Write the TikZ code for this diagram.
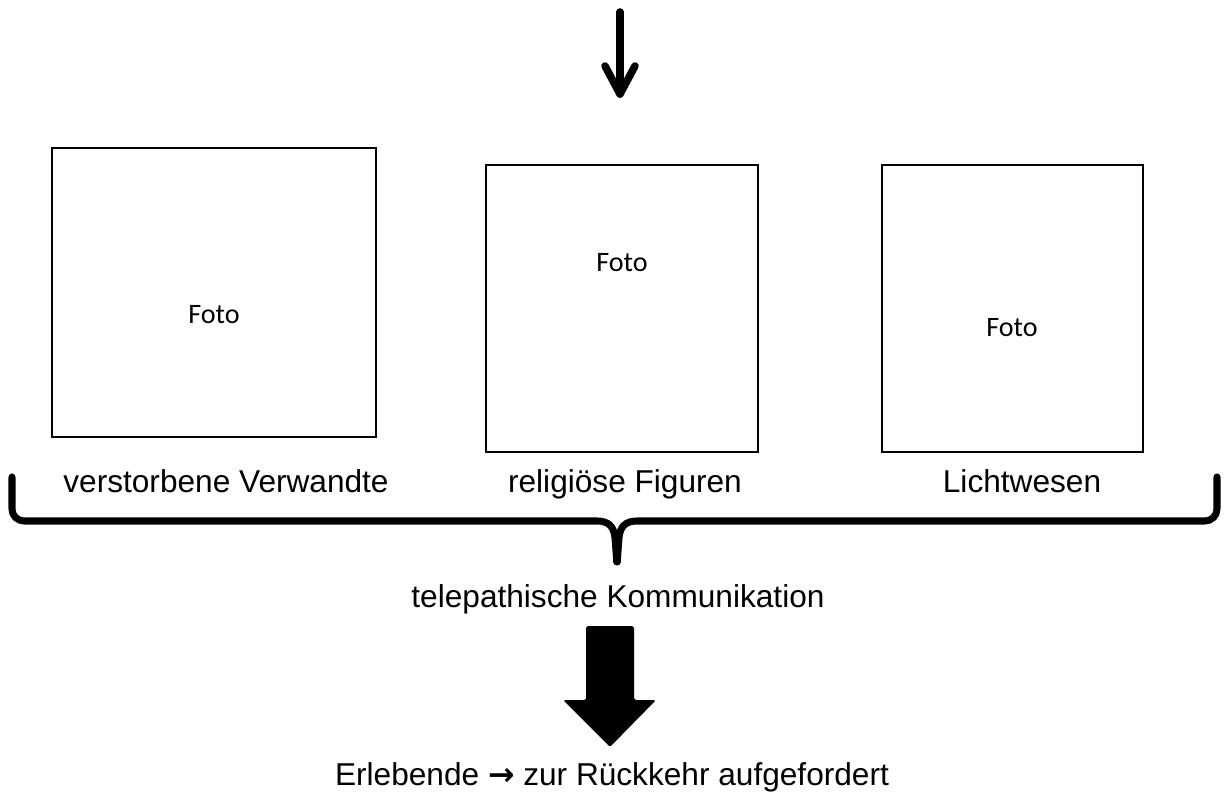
\documentclass[tikz,border=0pt]{standalone}
\usepackage{fontspec}
\setmainfont{Liberation Sans}
\newfontfamily\fotofont{Carlito}
\newfontfamily\symfont{DejaVu Sans}
\usetikzlibrary{calc}
\tikzset{
  fotobox/.style={draw, line width=0.85pt, inner sep=0pt},
  fototext/.style={font=\fotofont\fontsize{16}{19}\selectfont, anchor=base},
  lbl/.style={font=\fontsize{18}{22}\selectfont, anchor=base, inner sep=0pt},
  thinarrow/.style={line width=4.3pt, line cap=round, line join=round},
  bracket/.style={line width=4pt, line cap=round, line join=round},
}
\begin{document}
\begin{tikzpicture}[x=0.02cm,y=-0.02cm]
\useasboundingbox (0,0) rectangle (1225,794);
% top arrow
\coordinate (topstart) at (620,12);
\coordinate (toptip) at (620,94);
\draw[thinarrow] (topstart) -- (toptip);
\draw[thinarrow] ($(toptip)+(-15,-28)$) -- (toptip) -- ($(toptip)+(15,-28)$);
% photo boxes
\node[fotobox, minimum width=6.48cm, minimum height=5.78cm] (box1) at (214,292.5) {};
\node[fotobox, minimum width=5.44cm, minimum height=5.74cm] (box2) at (622,308.5) {};
\node[fotobox, minimum width=5.22cm, minimum height=5.74cm] (box3) at (1012.5,308.5) {};
\node[fototext] (foto1) at (214,323) {Foto};
\node[fototext] (foto2) at (622,272) {Foto};
\node[fototext] (foto3) at (1012,337) {Foto};
% labels
\node[lbl] (verwandte) at (226,492) {verstorbene Verwandte};
\node[lbl] (figuren) at (625,492) {religiöse Figuren};
\node[lbl] (licht) at (1022,492) {Lichtwesen};
% brace
\draw[bracket, rounded corners=0.24cm] (12,477) -- (12,521) -- (585,521)
  .. controls (608,521) and (614,526) .. (616,550) -- (617,567)
  -- (618,550) .. controls (620,526) and (626,521) .. (649,521)
  -- (1217,521) -- (1217,477);
\node[lbl] (telepathie) at (618,607) {telepathische Kommunikation};
% big arrow
\node[lbl] (rueckkehr) at (612,785) {Erlebende {\symfont\bfseries →} zur Rückkehr aufgefordert};
\fill[rounded corners=1pt] (586,626) -- (634,626) -- (634,700) -- (656,700)
  -- (610,747) -- (563,700) -- (586,700) -- cycle;
\end{tikzpicture}
\end{document}
